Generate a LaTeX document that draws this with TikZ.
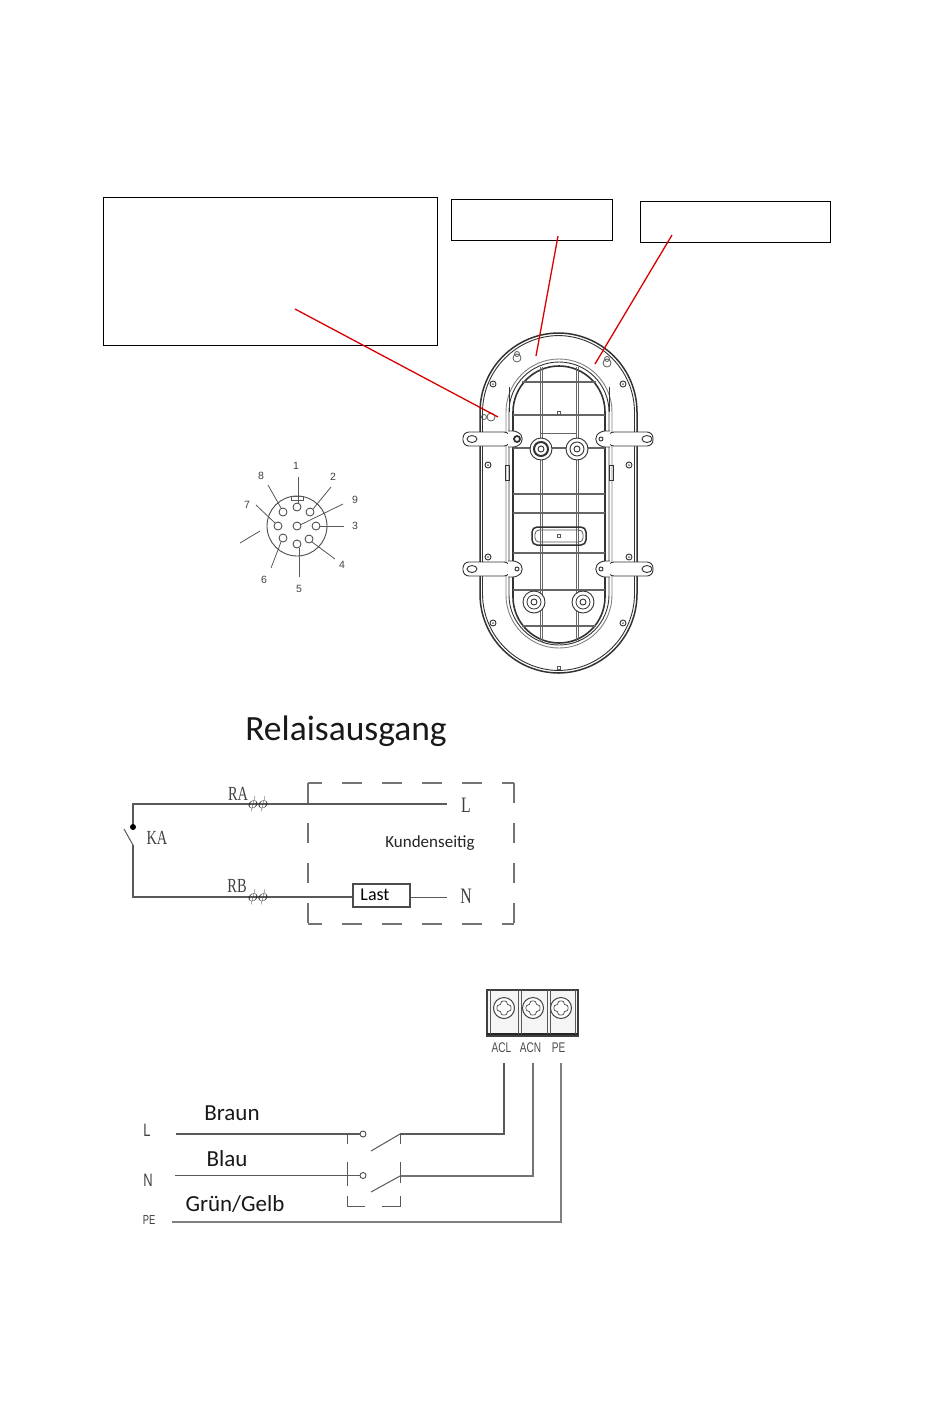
\documentclass[tikz,border=0pt]{standalone}
\usepackage{fontspec}
\setmainfont{Carlito}
\newfontfamily\cadfont{Liberation Serif}
\newfontfamily\pinfont{Liberation Sans}
\tikzset{
   callout/.style={draw=black,fill=white,line width=.8pt,inner sep=0pt},
   redline/.style={draw=red!85!black,line width=1.3pt},
   wire/.style={draw=black!65,line width=1.4pt},
   fineline/.style={draw=black!65,line width=.8pt},
   dashside/.style={draw=black!55,line width=1.5pt,dash pattern=on 20pt off 20pt},
   pin/.style={circle,draw=black!75,fill=white,line width=.8pt,minimum size=8pt,inner sep=0pt},
   pinlabel/.style={font=\pinfont\fontsize{10.5}{12}\selectfont,text=black!75,inner sep=0pt},
   cadlabel/.style={font=\cadfont\fontsize{20}{22}\selectfont,text=black!75,inner sep=0pt},
   cablelabel/.style={font=\fontsize{23}{26}\selectfont,text=black!90,inner sep=0pt},
   housing/.style={draw=black!80,line width=.9pt},
   gridline/.style={draw=black!60,line width=1pt},
}
\begin{document}
\begin{tikzpicture}[x=1pt,y=-1pt,>=latex]
   \newcommand\Narrow[1]{\scalebox{.72}[1]{#1}}
   \useasboundingbox [fill=white] (0,0) rectangle (950,1409);
% Housing (drawn here to be below the callouts)
   \draw [housing,line width=1.5pt,rounded corners=79pt] (480,333) rectangle (637,673);
   \draw [housing,rounded corners=77pt] (482.5,335.5) rectangle (634.5,670.5);
   \draw [housing,draw=black!50,rounded corners=53pt] (506,359) rectangle (612,648);
   \draw [housing,rounded corners=50pt] (509,362) rectangle (609,645);
   \draw [housing,line width=1.6pt,rounded corners=46pt] (513,366) rectangle (605,643);
% Grid of the base plate
   \foreach \gx in {541,577} {
      \draw [gridline] (\gx-1,367) -- (\gx-1,642);
      \draw [gridline] (\gx+1,367) -- (\gx+1,642);
   }
   \foreach \gy/\gl/\gr in {382/522/596,415/513/605,448/513/605,494/513/605,513/513/605,553/513/605,590/513/605,626/522/596}
      \draw [gridline,line width=1.3pt] (\gl,\gy) -- (\gr,\gy);
   \draw [gridline] (541,433) -- (577,433);
% Tabs left and right
   \foreach \ty in {439,569} {
      \draw [housing,fill=white,rounded corners=6pt] (463,\ty-7) rectangle (510,\ty+7);
      \draw [housing,fill=white,rounded corners=6pt] (608,\ty-7) rectangle (653,\ty+7);
      \draw [housing] (472,\ty) ellipse (5pt and 3.5pt);
      \draw [housing] (647,\ty) ellipse (5pt and 3.5pt);
      \draw [housing,fill=white,rounded corners=5pt] (508,\ty-8) -- (518,\ty-8) -- (524,\ty) -- (518,\ty+8) -- (508,\ty+8);
      \draw [housing,fill=white,rounded corners=5pt] (610,\ty-8) -- (600,\ty-8) -- (594,\ty) -- (600,\ty+8) -- (610,\ty+8);
      \draw [housing] (601,\ty) circle (2pt);
   }
   \draw [housing,line width=1.8pt] (517,439) circle (3pt);
   \draw [housing] (517,569) circle (2pt);
% Bosses
   \foreach \bx/\by/\bw in {541/449/2,577/449/.9,534/602/.8,583/602/.8} {
      \draw [housing,fill=white] (\bx,\by) circle (11pt);
      \draw [housing,line width=\bw pt] (\bx,\by) circle (7pt);
      \draw [housing] (\bx,\by) circle (3pt);
   }
% Screws and small marks
   \foreach \sx/\sy in {493/384,623/384,488/465,629/465,488/557,629/557,493/623,623/623} {
      \draw [housing] (\sx,\sy) circle (3pt);
      \fill [black!60] (\sx,\sy) circle (1pt);
   }
   \foreach \kx/\ky in {559/413,559/536,559/668}
      \draw [fineline] (\kx-1.5,\ky-1.5) rectangle (\kx+1.5,\ky+1.5);
% Keyholes
   \foreach \kx/\ky in {517/358,607/363} {
      \draw [fineline] (\kx,\ky) circle (4pt);
      \draw [fineline] (\kx,\ky-4) circle (2.5pt);
   }
   \draw [fineline] (491,417) circle (4pt);
   \draw [fineline] (484,417) circle (2.5pt);
% Slot and side clips
   \draw [housing,line width=1.5pt,rounded corners=5pt] (532,527) rectangle (586,545);
   \draw [fineline,rounded corners=4pt] (535,530) rectangle (583,542);
   \draw [housing] (505,465) -- (509,465) -- (509,480) -- (505,480) -- cycle;
   \draw [housing] (609,465) -- (613,465) -- (613,480) -- (609,480) -- cycle;
   \draw [housing] (509,387) -- (509,412) (609,387) -- (609,412);
% Callouts
   \node [callout,minimum width=334pt,minimum height=148pt] (boxfix) at (270,271) {};
   \node [callout,minimum width=161pt,minimum height=41pt] (boxtop) at (531.5,219.5) {};
   \node [callout,minimum width=190pt,minimum height=41pt] (boxseal) at (735,221.5) {};
   \coordinate (fixfrom) at (295,309);
   \coordinate (fixto) at (498,417);
   \coordinate (topfrom) at (558,236);
   \coordinate (topto) at (536,356);
   \coordinate (sealfrom) at (672,235);
   \coordinate (sealto) at (595,364);
   \draw [redline] (fixfrom) -- (fixto);
   \draw [redline] (topfrom) -- (topto);
   \draw [redline] (sealfrom) -- (sealto);
% Plug, seen from the front
   \node [circle,draw=black!70,line width=.9pt,minimum size=60pt,inner sep=0pt] (plug) at (297,526) {};
   \draw [fineline] (291,496) rectangle (303,500);
   \foreach \n/\px/\py/\lx/\ly/\ax/\ay/\bx/\by in {
      1/297/507/296/466/298/477/298/503,
      2/310/512/333/477/331/487/313/509,
      3/316/526/355/526/344/526/320/526,
      4/309/539/342/565/335/559/312/542,
      5/297/544/299/589/299/577/299/548,
      6/283/538/264/580/271/568/281/542,
      7/278/526/247/505/256/505/275/523,
      8/283/512/261/476/268/485/281/508,
      9/297/526/355/500/343/504/300/525} {
      \coordinate (from\n) at (\ax,\ay);
      \coordinate (to\n) at (\bx,\by);
      \draw [fineline] (from\n) -- (to\n);
      \node [pin] (pin\n) at (\px,\py) {};
      \node [pinlabel] (label\n) at (\lx,\ly) {\n};
   }
   \coordinate (strayfrom) at (240,543);
   \coordinate (strayto) at (260,531);
   \draw [fineline] (strayfrom) -- (strayto);
% Relay output
   \node [font=\fontsize{35.5}{38}\selectfont,text=black!90,inner sep=0pt] (relaytitle) at (346,731) {Relaisausgang};
   \draw [dashside] (308,783) -- (308,924);
   \draw [dashside] (514,783) -- (514,924);
   \draw [dashside,dash phase=6pt] (308,783) -- (514,783);
   \draw [dashside,dash phase=6pt] (308,924) -- (514,924);
   \node [cadlabel,font=\cadfont\fontsize{22}{24}\selectfont] (lineL) at (466,805) {\Narrow{L}};
   \node [cadlabel,font=\cadfont\fontsize{22}{24}\selectfont] (lineN) at (466,896) {\Narrow{N}};
   \node [draw=black!70,line width=1.3pt,minimum width=57pt,minimum height=23pt,inner sep=0pt,
        font=\fontsize{18}{20}\selectfont] (load) at (381.5,895.5) {\hspace*{-13pt}\raisebox{1pt}{Last}};
   \node [font=\fontsize{17}{19}\selectfont,text=black!85,inner sep=0pt] (customer) at (430,843) {Kundenseitig};
   \coordinate (relaytop) at (133,804);
   \coordinate (relaybot) at (133,897);
   \coordinate (contacta) at (133,827);
   \coordinate (contactb) at (133,845);
   \coordinate (bladeend) at (124,829);
   \coordinate (endL) at (447,804);
   \coordinate (endN) at (447,897);
   \draw [wire] (contacta) -- (relaytop) -- (endL);
   \draw [wire] (contactb) -- (relaybot) -- (load.west |- relaybot);
   \draw [wire,line width=1pt] (load.east |- relaybot) -- (endN);
   \draw [wire,line width=1pt] (bladeend) -- (contactb);
   \fill [black] (contacta) circle (3pt);
   \node [cadlabel] (relayA) at (238,794) {\Narrow{RA}};
   \node [cadlabel] (relayB) at (237,886) {\Narrow{RB}};
   \node [cadlabel] (relayK) at (157,838) {\Narrow{KA}};
   \node [font=\fontsize{17}{17}\selectfont,text=black!85,inner sep=0pt] (phia) at (258,804) {$\phi\phi$};
   \node [font=\fontsize{17}{17}\selectfont,text=black!85,inner sep=0pt] (phib) at (258,897) {$\phi\phi$};
% Terminal block
   \draw [draw=black!75,line width=1.3pt,fill=black!4] (487,990) rectangle (578,1036);
   \draw [draw=black!85,line width=1.6pt] (487,1034) -- (578,1034);
   \draw [fineline] (490,990) -- (490,1034) (575,990) -- (575,1034);
   \foreach \dx in {518,521,547,550}
      \draw [fineline] (\dx,990) -- (\dx,1034);
   \foreach \tx/\tname/\tlabel in {504/termL/ACL,533/termN/ACN,561/termPE/PE} {
      \draw [draw=black!75,fill=white,line width=1pt] (\tx,1008) circle (10.5pt);
      \draw [fineline,rounded corners=2pt] (\tx-7,1005) -- (\tx-3,1005) -- (\tx-3,1001) -- (\tx+3,1001) -- (\tx+3,1005)
          -- (\tx+7,1005) -- (\tx+7,1011) -- (\tx+3,1011) -- (\tx+3,1015) -- (\tx-3,1015) -- (\tx-3,1011) -- (\tx-7,1011) -- cycle;
      \node [font=\pinfont\fontsize{14}{16}\selectfont,text=black!70,inner sep=0pt] (\tname) at (\tx-2.5,1048) {\Narrow{\tlabel}};
   }
% Mains wiring
   \node [cadlabel,font=\pinfont\fontsize{18}{20}\selectfont] (mainsL) at (147,1130) {\Narrow{L}};
   \node [cadlabel,font=\pinfont\fontsize{18}{20}\selectfont] (mainsN) at (148,1180) {\Narrow{N}};
   \node [cadlabel,font=\pinfont\fontsize{13}{15}\selectfont] (mainsPE) at (149,1220) {\Narrow{PE}};
   \node [cablelabel] (brown) at (232,1113) {Braun};
   \node [cablelabel] (blue) at (227,1159) {Blau};
   \node [cablelabel] (green) at (235,1204) {Grün/Gelb};
   \node [circle,draw=black!70,line width=.9pt,minimum size=6pt,inner sep=0pt] (polea) at (363,1134) {};
   \node [circle,draw=black!70,line width=.9pt,minimum size=6pt,inner sep=0pt] (poleb) at (363,1175.5) {};
   \coordinate (conta) at (400,1134);
   \coordinate (contb) at (400,1176);
   \coordinate (bladea) at (371,1151);
   \coordinate (bladeb) at (371,1192);
   \coordinate (wireL) at (176,1134);
   \coordinate (wireN) at (175,1175.5);
   \coordinate (wirePE) at (172,1222);
   \coordinate (stubL) at (504,1063);
   \coordinate (stubN) at (533,1063);
   \coordinate (stubPE) at (561,1063);
   \draw [wire] (wireL) -- (polea);
   \draw [wire] (wireN) -- (poleb);
   \draw [wire,line width=1pt] (bladea) -- (conta);
   \draw [wire,line width=1pt] (bladeb) -- (contb);
   \draw [wire] (conta) -- (conta -| stubL) -- (stubL);
   \draw [wire,draw=black!55] (contb) -- (contb -| stubN) -- (stubN);
   \draw [wire,draw=black!50] (wirePE) -- (wirePE -| stubPE) -- (stubPE);
% Dashed frame round the switch
   \draw [fineline,line width=1pt]
        (347,1134) -- (347,1144)
        (347,1162) -- (347,1186)
        (347,1196) -- (347,1206) -- (365,1206)
        (382,1206) -- (400,1206) -- (400,1196)
        (400,1162) -- (400,1183)
        (400,1134) -- (400,1144);
\end{tikzpicture}
\end{document}
